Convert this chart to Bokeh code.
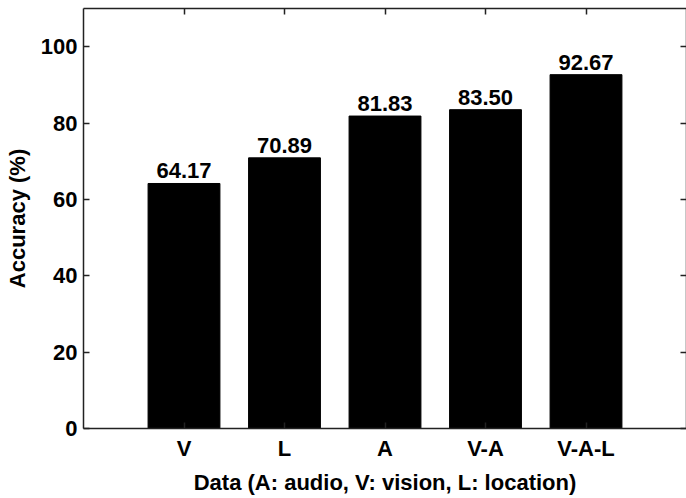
from bokeh.plotting import figure
from bokeh.models import ColumnDataSource, Range1d, FixedTicker, LinearAxis
from bokeh.embed import file_html
from bokeh.resources import INLINE
from bokeh.core.properties import value

categories = ["V", "L", "A", "V-A", "V-A-L"]
accuracy = [64.17, 70.89, 81.83, 83.50, 92.67]
y_ticks = [0, 20, 40, 60, 80, 100]

positions = list(range(1, len(categories) + 1))
labels = ["%.2f" % v for v in accuracy]
src = ColumnDataSource(dict(x=positions, top=accuracy, lab=labels))

FONT = "Liberation Sans"
FS = "22px"

p = figure(width=686, height=498, output_backend="svg", toolbar_location=None,
           x_range=Range1d(0, 6), y_range=Range1d(0, 110),
           min_border_left=83, min_border_right=0, min_border_top=8, min_border_bottom=70)
p.outline_line_color = None
p.xgrid.visible = False
p.ygrid.visible = False
p.background_fill_color = "white"
p.border_fill_color = "white"

p.vbar(x="x", top="top", width=0.715, bottom=0, source=src,
       fill_color="black", line_color="black")
p.text(x="x", y="top", text="lab", source=src, text_align="center",
       text_baseline="bottom", y_offset=-5,
       text_font=value(FONT), text_font_style="bold", text_font_size=FS,
       text_color="black")

xt = FixedTicker(ticks=positions)
yt = FixedTicker(ticks=y_ticks)
overrides = {i: c for i, c in zip(positions, categories)}

def style(ax):
    ax.axis_line_color = "#222222"
    ax.axis_line_width = 1.5
    ax.major_tick_line_color = "#222222"
    ax.major_tick_line_width = 1.5
    ax.major_tick_in = 6
    ax.major_tick_out = 0
    ax.minor_tick_in = 0
    ax.minor_tick_out = 0
    ax.major_label_text_font = FONT
    ax.major_label_text_font_style = "bold"
    ax.major_label_text_font_size = FS
    ax.major_label_text_color = "black"
    ax.axis_label_text_font = FONT
    ax.axis_label_text_font_style = "bold"
    ax.axis_label_text_font_size = FS
    ax.axis_label_text_color = "black"

xa = p.xaxis[0]
xa.ticker = xt
xa.major_label_overrides = overrides
xa.axis_label = "Data (A: audio, V: vision, L: location)"
xa.major_label_standoff = 7
xa.axis_label_standoff = 6
style(xa)

ya = p.yaxis[0]
ya.ticker = yt
ya.axis_label = "Accuracy (%)"
ya.major_label_standoff = 6
ya.axis_label_standoff = 8
style(ya)

top_ax = LinearAxis(ticker=xt)
style(top_ax)
top_ax.major_label_text_font_size = "0px"
top_ax.major_label_standoff = 0
top_ax.major_label_text_color = None
p.add_layout(top_ax, "above")

right_ax = LinearAxis(ticker=yt)
style(right_ax)
right_ax.major_label_text_font_size = "0px"
right_ax.major_label_standoff = 0
right_ax.major_label_text_color = None
p.add_layout(right_ax, "right")

open("out.html", "w").write(file_html(p, INLINE))
